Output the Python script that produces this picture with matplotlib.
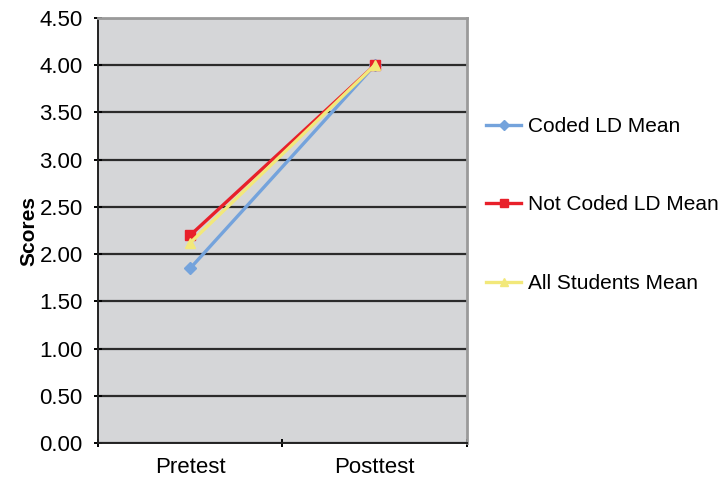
import matplotlib.pyplot as plt
import numpy as np

# categories and series
tests = ['Pretest', 'Posttest']
coded_ld = [1.85, 4.00]
not_coded_ld = [2.20, 4.00]
all_students = [2.12, 4.00]

plt.rcParams['font.family'] = ['Liberation Sans', 'DejaVu Sans']

fig = plt.figure(figsize=(7.25, 4.8), dpi=100)
ax = fig.add_axes([98 / 725, 37 / 480, 369 / 725, 425 / 480])
ax.set_facecolor('#d5d6d8')

x = np.arange(len(tests))
ax.plot(x, coded_ld, color='#74a3dc', linewidth=2.4, marker='D', markersize=6,
        label='Coded LD Mean', zorder=3)
ax.plot(x, not_coded_ld, color='#e8202a', linewidth=2.4, marker='s', markersize=7,
        label='Not Coded LD Mean', zorder=4)
ax.plot(x, all_students, color='#f2e87a', linewidth=2.4, marker='^', markersize=7,
        label='All Students Mean', zorder=5)

ax.set_xlim(-0.5, 1.5)
ax.set_ylim(0, 4.5)
ax.set_yticks(np.arange(0, 4.51, 0.5))
ax.set_yticklabels([f'{v:.2f}' for v in np.arange(0, 4.51, 0.5)], fontsize=16)
ax.yaxis.grid(True, color='#2b2b2b', linewidth=1.6)
ax.set_axisbelow(True)

ax.set_xticks(x)
ax.set_xticklabels(tests, fontsize=16)
ax.tick_params(axis='x', which='major', length=0, pad=10)
ax.set_xticks([-0.5, 0.5, 1.5], minor=True)
ax.tick_params(axis='x', which='minor', length=6, width=1.4, direction='inout')
ax.tick_params(axis='y', length=6, width=1.4, direction='inout', pad=8)

ax.set_ylabel('Scores', fontsize=15, fontweight='bold', labelpad=1)

for side in ['left', 'bottom']:
    ax.spines[side].set_color('#222222')
    ax.spines[side].set_linewidth(1.4)
for side in ['top', 'right']:
    ax.spines[side].set_color('#9a9a9a')
    ax.spines[side].set_linewidth(2)

fig.legend(loc='center left', bbox_to_anchor=(486 / 725, 1 - 205 / 480),
           frameon=False, fontsize=15, handlelength=1.7, handletextpad=0.3,
           labelspacing=2.85, borderpad=0, borderaxespad=0, markerscale=0.8)

fig.savefig('out.png', dpi=100)
